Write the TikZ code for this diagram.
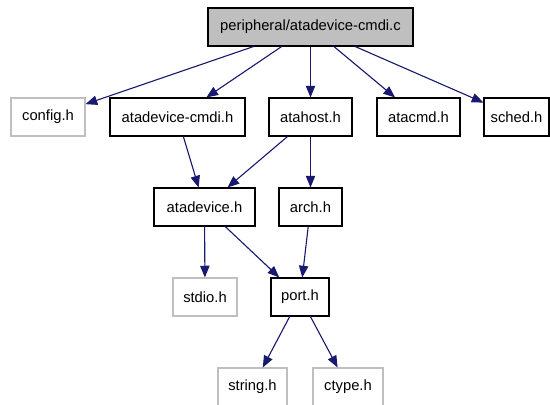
\documentclass[tikz,border=0pt]{standalone}
\usepackage{fontspec}
\setmainfont{Liberation Sans}
\usetikzlibrary{arrows.meta}

\begin{document}
\begin{tikzpicture}[x=0.03cm, y=-0.03cm]

% Colori
\definecolor{edgeBlue}{HTML}{191970}
\definecolor{fillGray}{HTML}{BFBFBF}
\definecolor{lineGray}{HTML}{BFBFBF}

\tikzset{
  file/.style={draw=black, line width=0.9pt, minimum height=38*0.03cm,
    inner sep=0pt, font=\fontsize{12.6}{15}\selectfont},
  sysfile/.style={file, draw=lineGray},
  dep/.style={draw=edgeBlue, line width=0.95pt,
    -{Triangle[length=10pt, width=8pt]}}
}

\useasboundingbox (0,0) rectangle (550,405);

% Sorgente
\node[file, fill=fillGray, minimum width=205*0.03cm] (src) at (310.5,27) {peripheral/atadevice-cmdi.c};

% Primo livello
\node[sysfile, minimum width=74*0.03cm] (config) at (48,117) {config.h};
\node[file, minimum width=135*0.03cm] (cmdih) at (177.5,117) {atadevice-cmdi.h};
\node[file, minimum width=83*0.03cm] (atahost) at (310.5,117) {atahost.h};
\node[file, minimum width=83*0.03cm] (atacmd) at (418.5,117) {atacmd.h};
\node[file, minimum width=65*0.03cm] (sched) at (516.5,117) {sched.h};

% Secondo livello
\node[file, minimum width=101*0.03cm] (atadevice) at (204.5,207) {atadevice.h};
\node[file, minimum width=63*0.03cm] (arch) at (310.5,207) {arch.h};

% Terzo livello
\node[sysfile, minimum width=64*0.03cm] (stdio) at (205,297) {stdio.h};
\node[file, minimum width=58*0.03cm] (port) at (300,297) {port.h};

% Quarto livello
\node[sysfile, minimum width=69*0.03cm] (string) at (252.5,387) {string.h};
\node[sysfile, minimum width=70*0.03cm] (ctype) at (348,387) {ctype.h};

% Dipendenze
\draw[dep] (src) -- (config);
\draw[dep] (src) -- (cmdih);
\draw[dep] (src) -- (atahost);
\draw[dep] (src) -- (atacmd);
\draw[dep] (src) -- (sched);
\draw[dep] (cmdih) -- (atadevice);
\draw[dep] (atahost) -- (atadevice);
\draw[dep] (atahost) -- (arch);
\draw[dep] (atadevice) -- (stdio);
\draw[dep] (atadevice) -- (port);
\draw[dep] (arch) -- (port);
\draw[dep] (port) -- (string);
\draw[dep] (port) -- (ctype);

\end{tikzpicture}
\end{document}
